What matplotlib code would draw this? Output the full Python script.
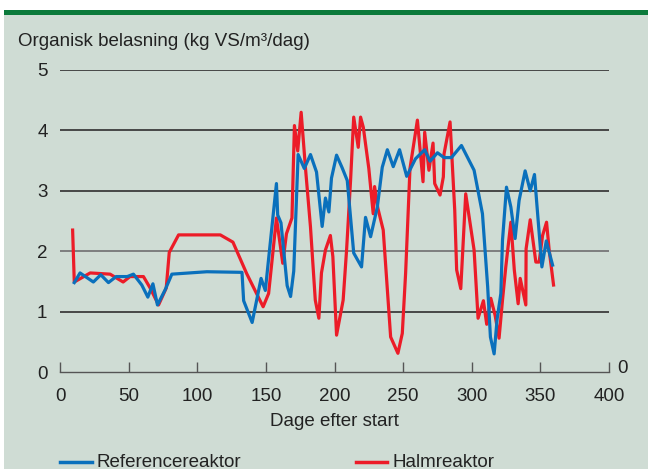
import matplotlib
matplotlib.use("Agg")
import matplotlib.pyplot as plt
from matplotlib.patches import Rectangle
from matplotlib.lines import Line2D

plt.rcParams['font.family'] = ['Liberation Sans', 'DejaVu Sans']

# Referencereaktor (blue)
ref_days = [10.4, 14.6, 24.3, 29.7, 35.3, 40.9, 49, 53.5, 59.6, 64, 67.7, 71, 76.6, 81.5,
            107, 132.6, 133.8, 140, 146.5, 149.6, 157.7, 158.6, 161, 165.5, 168, 170.3,
            173.5, 178, 182.5, 186.9, 191, 193.4, 195.9, 197.8, 201.5, 205.6, 209.3, 214,
            219.7, 222.6, 226.3, 231.2, 234.8, 238.5, 242.8, 247.4, 252.6, 259, 265.7, 269.6,
            275, 279.8, 285.2, 292.5, 301.7, 307.8, 311.6, 313.6, 316.3, 318.5, 321.2, 322.4,
            325.3, 328.5, 331.6, 334.5, 338.9, 342.6, 345.7, 351.1, 354.3, 358.9]
ref_vals = [1.48, 1.64, 1.49, 1.61, 1.48, 1.58, 1.58, 1.62, 1.44, 1.24, 1.46, 1.11, 1.36, 1.62,
            1.66, 1.65, 1.18, 0.82, 1.55, 1.35, 3.12, 2.60, 2.47, 1.43, 1.25, 1.67,
            3.60, 3.37, 3.60, 3.31, 2.41, 2.88, 2.65, 3.21, 3.59, 3.38, 3.17, 1.97,
            1.74, 2.56, 2.24, 2.73, 3.39, 3.68, 3.40, 3.68, 3.24, 3.53, 3.68, 3.49,
            3.63, 3.55, 3.55, 3.75, 3.34, 2.62, 1.41, 0.58, 0.30, 0.88, 1.30, 2.18,
            3.06, 2.73, 2.21, 2.84, 3.33, 3.00, 3.27, 1.74, 2.17, 1.77]

# Halmreaktor (red)
halm_days = [9.2, 10.4, 22, 36.5, 46, 51, 60.8, 65.7, 71.8, 77.4, 79.6, 86.4, 116.8, 126, 136,
             148, 152, 157.7, 162.3, 165, 169, 170.8, 173.2, 175.7, 178.8, 182.5, 186, 188.6,
             190.5, 193.4, 197, 198.8, 201.5, 206.3, 208.8, 211.7, 214, 217.3, 219, 221, 225,
             228.2, 229.2, 231.6, 235.5, 240.9, 246.2, 249.4, 251.8, 255, 260.4, 264.5, 265.7,
             268.8, 271.8, 273, 276.9, 279.3, 279.8, 284.2, 287.6, 289, 292, 295.6, 301.7,
             304.6, 308.5, 310.9, 313.9, 317, 319.9, 322.4, 324.8, 328.5, 331, 333.8, 335.3,
             339.4, 339.6, 342.6, 346.7, 349.1, 351.6, 354.5, 356.4, 359.6]
halm_vals = [2.35, 1.49, 1.64, 1.62, 1.49, 1.58, 1.58, 1.39, 1.11, 1.39, 1.98, 2.27, 2.27, 2.15, 1.63,
             1.08, 1.30, 2.55, 1.80, 2.29, 2.55, 4.08, 3.66, 4.30, 3.39, 2.40, 1.19, 0.89,
             1.64, 2.02, 2.26, 1.91, 0.61, 1.19, 2.02, 3.17, 4.22, 3.72, 4.22, 4.05, 3.37,
             2.62, 3.07, 2.71, 2.35, 0.58, 0.31, 0.64, 1.63, 3.37, 4.17, 3.15, 3.97,
             3.34, 3.79, 3.12, 2.93, 3.23, 3.61, 4.14, 2.68, 1.69, 1.38, 2.95, 2.02,
             0.89, 1.18, 0.79, 1.22, 0.94, 0.56, 1.19, 1.74, 2.48, 1.69, 1.13, 1.55,
             1.11, 2.04, 2.52, 1.82, 1.82, 2.26, 2.48, 2.02, 1.44]

x_ticks = [0, 50, 100, 150, 200, 250, 300, 350, 400]
y_ticks = [0, 1, 2, 3, 4, 5]

W, H = 648, 469
FS = 13.5
TXT = '#222222'
BLUE = '#0a70bc'
RED = '#ec1c28'

fig = plt.figure(figsize=(W / 100, H / 100), dpi=100, facecolor='white')

# panel background and green bar
fig.patches.append(Rectangle((4 / W, 0), 1 - 4 / W, 1 - 10 / H, transform=fig.transFigure,
                             facecolor='#cfdcd4', edgecolor='none', zorder=-3))
fig.patches.append(Rectangle((4 / W, 1 - 15 / H), 1 - 4 / W, 5 / H, transform=fig.transFigure,
                             facecolor='#0b7a3b', edgecolor='none', zorder=-2))

ax = fig.add_axes([60 / W, (H - 372) / H, 549 / W, 302 / H])
ax.set_facecolor('none')
ax.set_xlim(0, 400)
ax.set_ylim(0, 5)

for v in y_ticks[1:]:
    ax.axhline(v, color='#777777' if v == 2 else '#3c3c3c', lw=1.3, zorder=1)

ax.plot(ref_days, ref_vals, color=BLUE, lw=2.3, zorder=3)
ax.plot(halm_days, halm_vals, color=RED, lw=2.3, zorder=2)

for s in ['top', 'right', 'left']:
    ax.spines[s].set_visible(False)
ax.spines['bottom'].set_color('#555555')
ax.spines['bottom'].set_linewidth(1.0)

ax.set_xticks(x_ticks)
ax.set_xticklabels([str(t) for t in x_ticks])
ax.tick_params(axis='x', direction='in', length=7, width=1, color='#555555',
               labelsize=FS, labelcolor=TXT, pad=11.5)
ax.set_yticks(y_ticks)
ax.tick_params(axis='y', length=0, labelsize=FS, labelcolor=TXT, pad=9)
ax.text(622 / W, 1 - 368 / H, '0', transform=fig.transFigure, fontsize=FS, color=TXT,
        ha='center', va='center')

ax.set_xlabel('Dage efter start', fontsize=FS, color=TXT, labelpad=6)
fig.text(18 / W, 1 - 42 / H, 'Organisk belasning (kg VS/m³/dag)', fontsize=FS,
         color=TXT, ha='left', va='center')

# legend
ly = 1 - 462 / H
fig.lines.append(Line2D([60 / W, 92 / W], [ly, ly], transform=fig.transFigure, color=BLUE, lw=2.5))
fig.text(97 / W, ly, 'Referencereaktor', fontsize=FS, color=TXT, va='center')
fig.lines.append(Line2D([356 / W, 387 / W], [ly, ly], transform=fig.transFigure, color=RED, lw=2.5))
fig.text(392 / W, ly, 'Halmreaktor', fontsize=FS, color=TXT, va='center')

fig.savefig('out.png', dpi=100, facecolor=fig.get_facecolor())
